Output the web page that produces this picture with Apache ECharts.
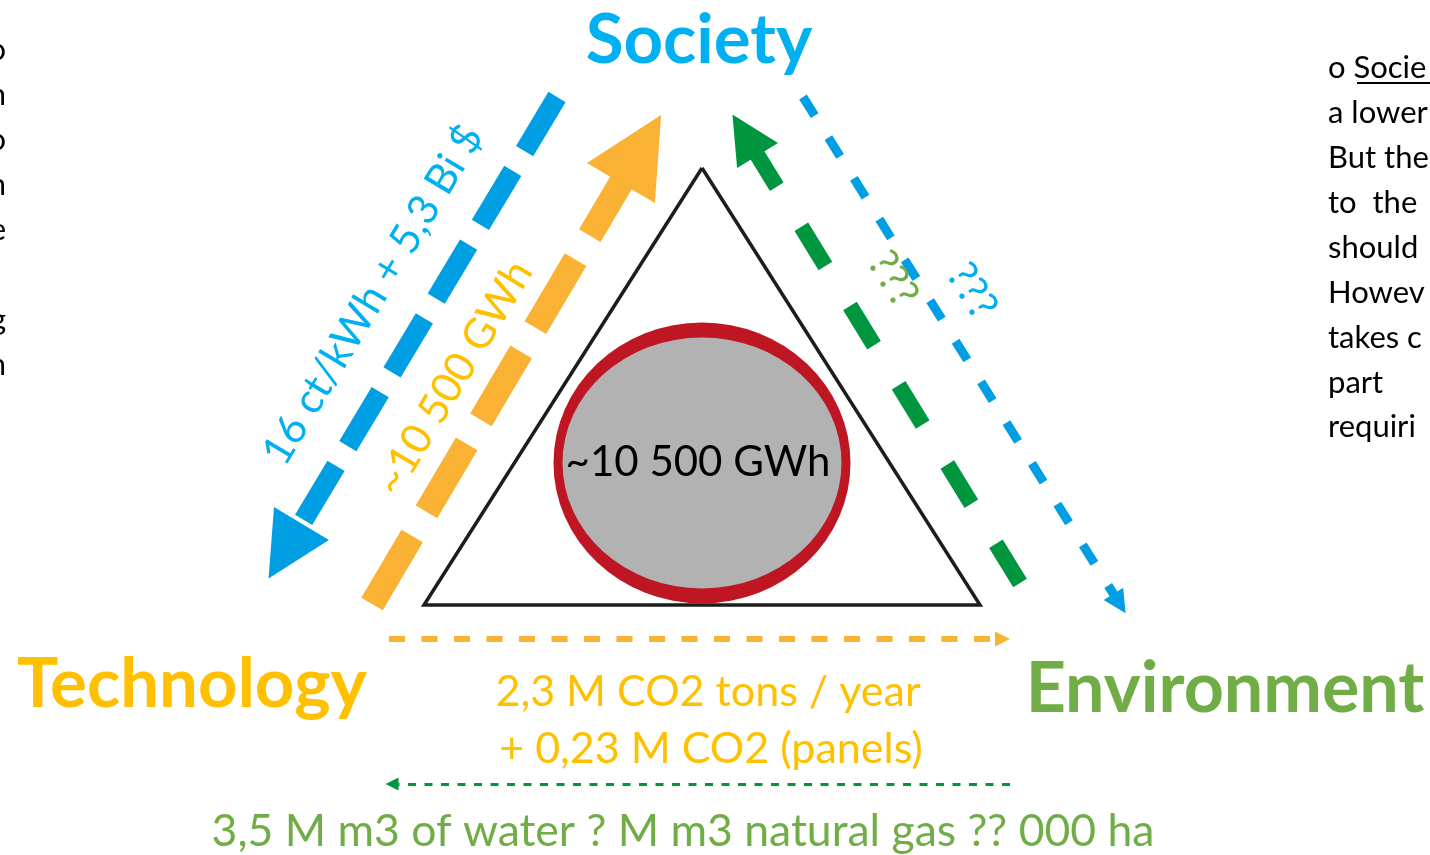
<!DOCTYPE html>
<html>
<head>
<meta charset="utf-8">
<style>html,body{margin:0;padding:0;background:#fff}#c{width:1430px;height:855px}</style>
<script src="https://cdn.jsdelivr.net/npm/echarts@6/dist/echarts.min.js"></script>
</head>
<body>
<div id="c"></div>
<script>
// ---- diagram data (diagram units = page pixels) ----
const triangle = [[702,168],[424,605],[980,605],[702,168]];
const ellipseCenter = [702,463];

const blueCostArrow      = [[557,97],[285,551]];
const orangeEnergyArrow  = [[372,604],[641,149]];
const greenImpactArrow   = [[1020,583],[745,135]];
const blueThinArrow      = [[803,97],[1119.5,603.6]];
const orangeCO2Arrow     = [[389,639],[1002.5,639]];
const greenResourceArrow = [[1010,784],[392,784]];
const underlineSocie     = [[1357,83],[1432,83]];

const cornerNames = ['Society','Technology','Environment'];
const cornerPos   = [[699,41],[192,685],[1225,689]];

const centreText = '~10 500 GWh';
const blueCostText = '16 ct/kWh + 5,3 Bi $';
const blueCostPos  = [373,295];
const orangeEnergyText = '~10 500 GWh';
const orangeEnergyPos  = [454,378];
const greenQText = '???';
const greenQPos  = [893,279];
const blueQText  = '???';
const blueQPos   = [972,291];

const co2Lines = ['2,3 M CO2 tons / year','+ 0,23 M CO2 (panels)'];
const co2Pos   = [[708,692],[711,749]];
const resourceText = '3,5 M m3 of water ? M m3 natural gas ?? 000 ha';
const resourcePos  = [683,832];

const leftParaEnds = ['o','n','o','n','e','g','n'];
const leftParaY    = [50,95,140,185,230,320,365];
const rightPara    = ['o Socie','a lower','But the','to  the','should','Howev','takes c','part','requiri'];
const rightParaY   = [68,113,158,203,248,293,338,383,427];

// ---- helpers ----
const FONT = 'Lato, "Open Sans", sans-serif';
function arrow(coords, color, width, dash, head, offset){
  return {
    type:'lines', coordinateSystem:'cartesian2d', silent:true, z:3,
    symbol:['none','triangle'], symbolSize:[0, head],
    itemStyle:{opacity:1},
    lineStyle:{color:color, width:width, type:dash, dashOffset:offset||0, opacity:1, curveness:0, cap:'butt'},
    data:[{coords:coords}]
  };
}
function textSeries(items, style, z){
  return {
    type:'scatter', silent:true, z:z||5, symbol:'circle', symbolSize:1,
    itemStyle:{color:'rgba(0,0,0,0)', opacity:1},
    label:Object.assign({show:true, position:'inside', fontFamily:FONT, opacity:1, formatter:p=>p.name}, style),
    data:items.map(it=>({name:it[0], value:it[1]}))
  };
}
const ellipsePath = 'path://M0 50A50 50 0 1 1 100 50A50 50 0 1 1 0 50Z';

const option = {
  animation:false,
  backgroundColor:'#ffffff',
  grid:{left:0,right:0,top:0,bottom:0},
  xAxis:{type:'value',min:0,max:1430,show:false},
  yAxis:{type:'value',min:0,max:855,inverse:true,show:false},
  series:[
    {type:'line', silent:true, z:2, symbol:'none', data:triangle,
     lineStyle:{color:'#1d1d1b', width:3.5, join:'miter', opacity:1}},
    {type:'scatter', silent:true, z:2, symbol:ellipsePath, symbolSize:[297,281],
     itemStyle:{color:'#be1622', opacity:1}, data:[ellipseCenter]},
    {type:'scatter', silent:true, z:2, symbol:ellipsePath, symbolSize:[279,251],
     itemStyle:{color:'#b2b2b2', opacity:1}, data:[ellipseCenter]},
    arrow(blueCostArrow, '#009fe3', 20, [63,23], 64),
    arrow(orangeEnergyArrow, '#f9b233', 25, [79,28], 79),
    arrow(greenImpactArrow, '#009640', 16, [46,47], 48),
    arrow(blueThinArrow, '#009fe3', 9, [22,26], 23),
    arrow(orangeCO2Arrow, '#f9b233', 6, [16,16.5], 15),
    arrow(greenResourceArrow, '#009640', 3, [8,8.5], 13),
    {type:'lines', coordinateSystem:'cartesian2d', silent:true, symbol:'none',
     lineStyle:{color:'#000', width:2, opacity:1}, data:[{coords:underlineSocie}]},
    textSeries([[cornerNames[0],cornerPos[0]]], {color:'#00b0f0', fontSize:69, fontWeight:'bold'}),
    textSeries([[cornerNames[1],cornerPos[1]]], {color:'#ffc000', fontSize:69, fontWeight:'bold'}),
    textSeries([[cornerNames[2],cornerPos[2]]], {color:'#70ad47', fontSize:70, fontWeight:'bold'}),
    textSeries([[centreText,ellipseCenter.map((v,i)=>i? v-1 : v-4)]], {color:'#000', fontSize:42}),
    textSeries([[blueCostText,blueCostPos]], {color:'#00b0f0', fontSize:42, rotate:59}),
    textSeries([[orangeEnergyText,orangeEnergyPos]], {color:'#ffc000', fontSize:42, rotate:59}),
    textSeries([[greenQText,greenQPos]], {color:'#70ad47', fontSize:42, rotate:-58}),
    textSeries([[blueQText,blueQPos]], {color:'#00b0f0', fontSize:42, rotate:-58}),
    textSeries(co2Lines.map((t,i)=>[t,co2Pos[i]]), {color:'#ffc000', fontSize:43}),
    textSeries([[resourceText,resourcePos]], {color:'#70ad47', fontSize:44.5}),
    textSeries(leftParaEnds.map((t,i)=>[t,[6,leftParaY[i]]]), {color:'#000', fontSize:31, align:'right'}),
    textSeries(rightPara.map((t,i)=>[t,[1328,rightParaY[i]]]), {color:'#000', fontSize:31, align:'left'})
  ]
};
const chart = echarts.init(document.getElementById('c'), null, {renderer:'canvas'});
chart.setOption(option);
</script>
</body>
</html>
